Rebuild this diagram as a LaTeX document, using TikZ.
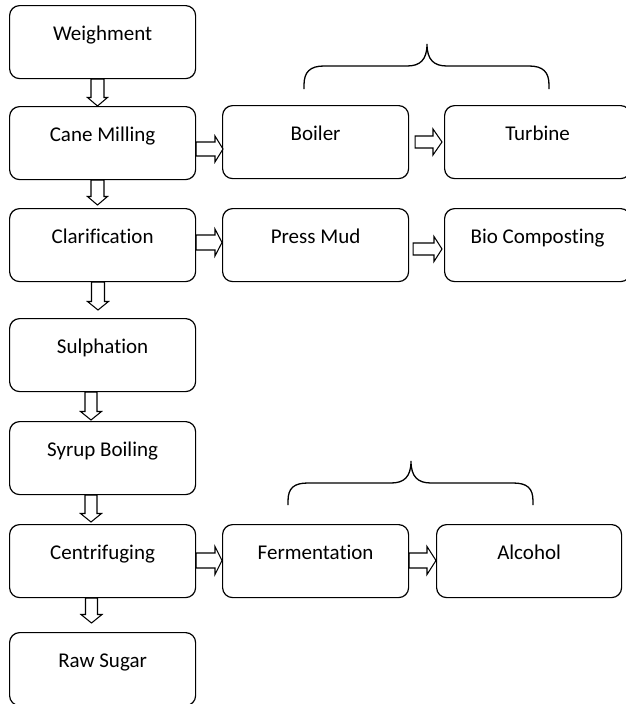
\documentclass[tikz,border=0pt]{standalone}
\usepackage{fontspec}
\setmainfont{Carlito}[Ligatures={NoCommon}]
\usetikzlibrary{calc}
\tikzset{
  box/.style={draw, rounded corners=10pt, line width=1.2pt, inner xsep=0pt, inner ysep=0pt,
    text height=34.5pt, text depth=38.5pt, minimum width=186pt, anchor=north west,
    font=\fontsize{21}{25}\selectfont},
  blockarrow/.style={draw, line width=1.05pt, line join=miter},
  bracestyle/.style={draw, line width=1.3pt},
}
% vertical block arrow: from, to, x centre, shaft half width, head half width, gap at tip
\newcommand{\varrow}[6]{%
  \draw[blockarrow] let \p1=(#1.south), \p2=(#2.north) in
  ({#3pt-#4pt},\y1) -- ({#3pt+#4pt},\y1) -- ({#3pt+#4pt},{\y2+#6pt+8.5pt})
  -- ({#3pt+#5pt},{\y2+#6pt+8.5pt}) -- (#3pt,{\y2+#6pt})
  -- ({#3pt-#5pt},{\y2+#6pt+8.5pt}) -- ({#3pt-#4pt},{\y2+#6pt+8.5pt}) -- cycle;}
% horizontal block arrow: from, to, y centre (down), shaft half, head half, head length, start gap, end gap
\newcommand{\harrow}[8]{%
  \draw[blockarrow] let \p1=(#1.east), \p2=(#2.west) in
  ({\x1+#7pt},{-#3pt+#4pt}) -- ({\x2-#8pt-#6pt},{-#3pt+#4pt}) -- ({\x2-#8pt-#6pt},{-#3pt+#5pt})
  -- ({\x2-#8pt},{-#3pt}) -- ({\x2-#8pt-#6pt},{-#3pt-#5pt}) -- ({\x2-#8pt-#6pt},{-#3pt-#4pt})
  -- ({\x1+#7pt},{-#3pt-#4pt}) -- cycle;}
\begin{document}
\begin{tikzpicture}[x=1pt,y=1pt]
\useasboundingbox (0,0) rectangle (626,-704);
% left column
\node[box] (w)  at (9,-5)   {Weighment};
\node[box] (cm) at (9,-106) {Cane Milling};
\node[box] (cl) at (9,-208) {Clarification};
\node[box] (su) at (9,-318) {Sulphation};
\node[box] (sy) at (9,-421) {Syrup Boiling};
\node[box] (ce) at (9,-524) {Centrifuging};
\node[box] (rs) at (9,-632) {Raw Sugar};
% right side
\node[box] (bo) at (222,-105) {Boiler};
\node[box] (tu) at (444,-105) {Turbine};
\node[box] (pm) at (222,-208) {Press Mud};
\node[box] (bc) at (444,-208) {Bio Composting};
\node[box] (fe) at (222,-524) {Fermentation};
\node[box, minimum width=185pt] (al) at (436,-524) {Alcohol\hspace{19pt}};
% vertical arrows
\varrow{w}{cm}{97.5}{6.5}{10}{0}
\varrow{cm}{cl}{97.5}{6.5}{10}{3}
\varrow{cl}{su}{98}{6.5}{10.5}{8}
\varrow{su}{sy}{91}{6}{10.5}{1}
\varrow{sy}{ce}{91}{6}{10.5}{2}
\varrow{ce}{rs}{91.5}{6}{10.5}{9}
% horizontal arrows
\harrow{cm}{bo}{149}{7}{13}{8}{0}{-1}
\harrow{bo}{tu}{142}{6}{13}{9}{6}{2}
\harrow{cl}{pm}{242.5}{7.5}{13.5}{7}{0}{0}
\harrow{pm}{bc}{249}{6}{12.5}{8}{4}{2}
\harrow{ce}{fe}{560.5}{7.5}{14}{7}{0}{0}
\harrow{fe}{al}{560.5}{7.5}{14}{9}{0}{0}
% braces
\draw[bracestyle] (304,-89) -- (304,-85) .. controls (304,-72) and (310,-66) .. (324,-66)
  -- (407,-66) .. controls (420,-66) and (427,-60) .. (427,-44)
  .. controls (427,-60) and (434,-66) .. (447,-66) -- (529,-66)
  .. controls (543,-66) and (549,-72) .. (549,-85) -- (549,-89);
\draw[bracestyle] (288,-505) -- (288,-501) .. controls (288,-488) and (294,-483) .. (308,-483)
  -- (391,-483) .. controls (404,-483) and (411,-477) .. (411,-461)
  .. controls (411,-477) and (418,-483) .. (431,-483) -- (513,-483)
  .. controls (527,-483) and (533,-488) .. (533,-501) -- (533,-505);
\end{tikzpicture}
\end{document}
